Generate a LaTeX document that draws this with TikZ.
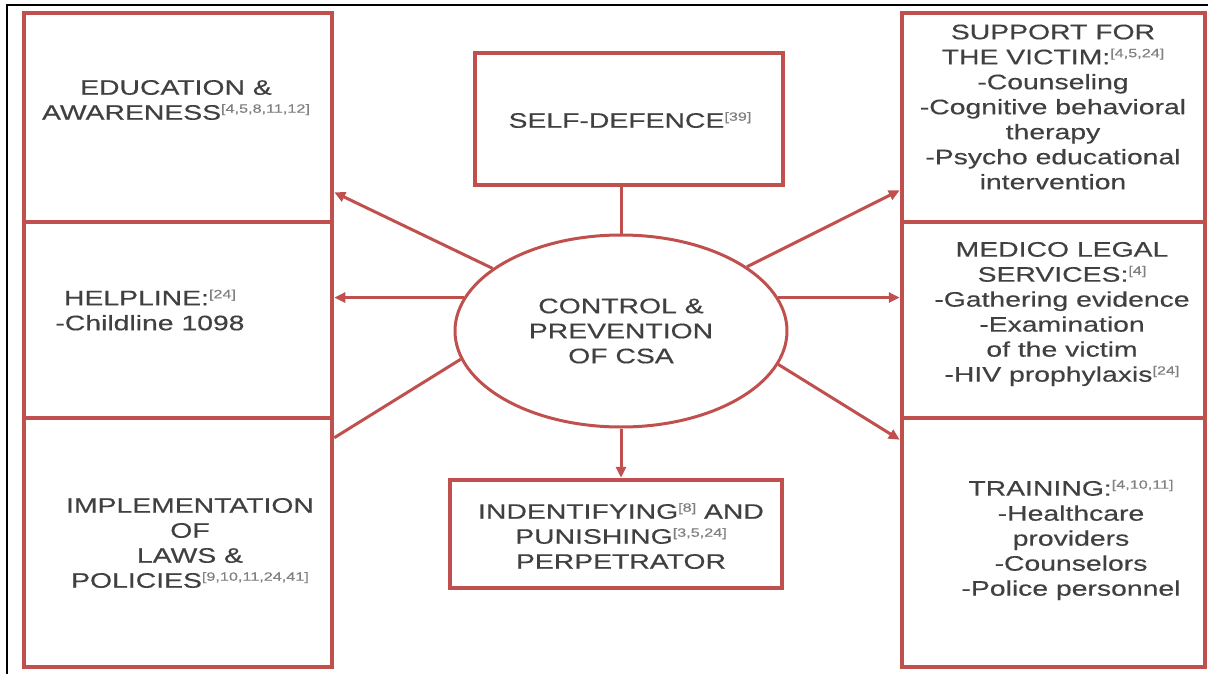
\documentclass[tikz,border=0pt]{standalone}
\usepackage{fontspec}
\setmainfont{Liberation Sans}[FakeStretch=1.35,FakeBold=0.4]
\usetikzlibrary{arrows.meta,shapes.geometric}
\definecolor{csared}{HTML}{C0504D}
\definecolor{txtgray}{HTML}{404040}
\definecolor{refgray}{HTML}{808080}
\newcommand{\refnum}[1]{\raisebox{7pt}{\fontsize{12}{12}\selectfont\color{refgray}[#1]}}

\begin{document}
\begin{tikzpicture}[x=1pt,y=-1pt,
    box/.style={draw=csared,line width=4.5pt,inner sep=0pt},
    txt/.style={text=txtgray,align=center,font=\fontsize{21}{25}\selectfont},
    link/.style={draw=csared,line width=3pt},
    >={Triangle[length=11pt,width=10pt]}]
  \useasboundingbox (0,0) rectangle (1208,674);
  \draw[line width=1.2pt] (7,674) -- (7,5) -- (1208,5);

  % left column
  \node[box,minimum width=308,minimum height=209] (edu) at (178,117.5) {};
  \node[box,minimum width=308,minimum height=196] (help) at (178,320) {};
  \node[box,minimum width=308,minimum height=249] (law) at (178,542.5) {};
  \node[txt] (edutxt) at (176,100) {EDUCATION \&\\AWARENESS\refnum{4,5,8,11,12}};
  \node[txt] (helptxt) at (150,310) {HELPLINE:\refnum{24}\\-Childline 1098};
  \node[txt] (lawtxt) at (190,543) {IMPLEMENTATION\\OF\\LAWS \&\\POLICIES\refnum{9,10,11,24,41}};

  % right column
  \node[box,minimum width=303,minimum height=209] (sup) at (1053.5,117.5) {};
  \node[box,minimum width=303,minimum height=196] (med) at (1053.5,320) {};
  \node[box,minimum width=303,minimum height=249] (train) at (1053.5,542.5) {};
  \node[txt] (suptxt) at (1053,107) {SUPPORT FOR\\THE VICTIM:\refnum{4,5,24}\\-Counseling\\-Cognitive behavioral\\therapy\\-Psycho educational\\intervention};
  \node[txt] (medtxt) at (1062,314) {MEDICO LEGAL\\SERVICES:\refnum{4}\\-Gathering evidence\\-Examination\\of the victim\\-HIV prophylaxis\refnum{24}};
  \node[txt] (traintxt) at (1071,540) {TRAINING:\refnum{4,10,11}\\-Healthcare\\providers\\-Counselors\\-Police personnel};

  % middle
  \node[box,minimum width=308,minimum height=132] (self) at (629,119) {};
  \node[txt] (selftxt) at (630,120) {SELF-DEFENCE\refnum{39}};
  \node[ellipse,draw=csared,line width=3pt,minimum width=332,minimum height=192,
        inner sep=0pt,txt] (csa) at (621,331) {CONTROL \&\\PREVENTION\\OF CSA};
  \node[box,minimum width=332,minimum height=108] (punish) at (616,534) {};
  \node[txt] (punishtxt) at (621,536) {INDENTIFYING\refnum{8} AND\\PUNISHING\refnum{3,5,24}\\PERPETRATOR};

  \draw[link,->] (csa.154) -- ([yshift=32pt]edu.south east);
  \draw[link,->] (csa.168) -- (csa.168 -| help.east);
  \draw[link] (csa.190) -- ([yshift=-22pt]law.north east);
  \draw[link,->] (csa.27) -- ([yshift=34pt]sup.south west);
  \draw[link,->] (csa.12) -- (csa.12 -| med.west);
  \draw[link,->] (csa.348) -- ([yshift=-24pt]train.north west);
  \draw[link] (csa.north) -- (csa.north |- self.south);
  \draw[link,->] (csa.south) -- (csa.south |- punish.north);
\end{tikzpicture}
\end{document}
